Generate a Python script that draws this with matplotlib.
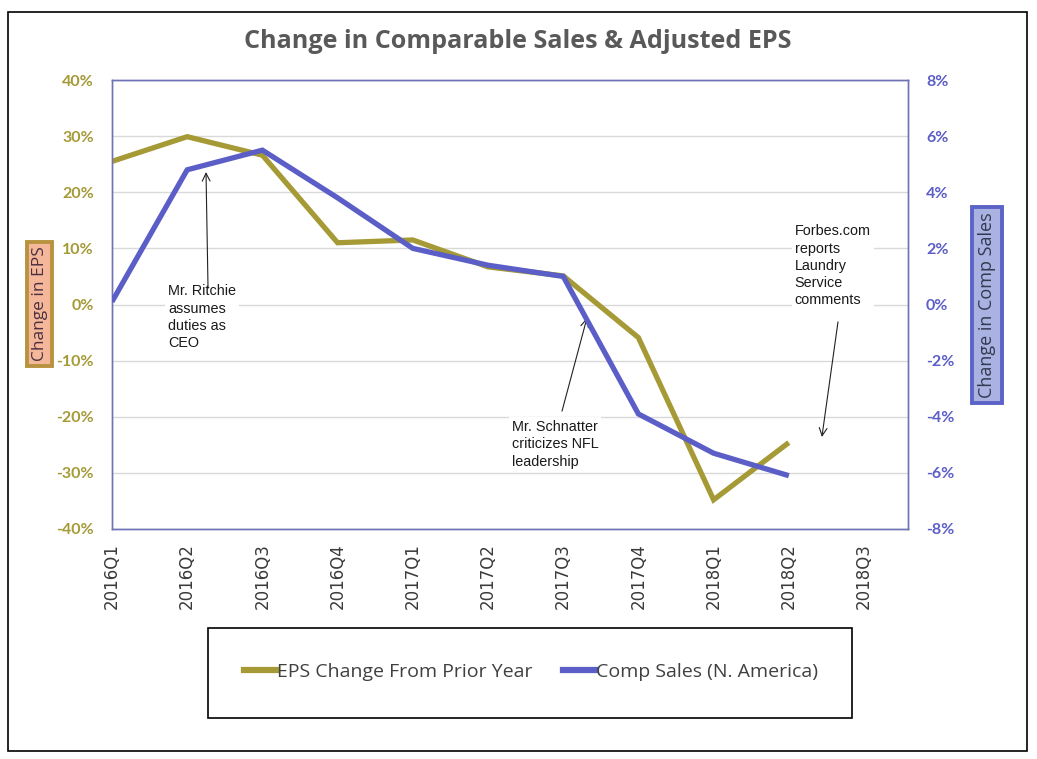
import matplotlib
matplotlib.use('Agg')
import matplotlib.pyplot as plt
from matplotlib.patches import Rectangle
from matplotlib.lines import Line2D
from matplotlib.ticker import FuncFormatter, MultipleLocator

# ---- data ----
quarters = ['2016Q1', '2016Q2', '2016Q3', '2016Q4', '2017Q1', '2017Q2',
            '2017Q3', '2017Q4', '2018Q1', '2018Q2', '2018Q3']
eps_change = [25.5, 29.9, 26.6, 11.0, 11.5, 6.7, 5.1, -5.9, -34.8, -24.6]
comp_sales = [0.1, 4.8, 5.5, 3.8, 2.0, 1.4, 1.0, -3.9, -5.3, -6.1]

title = 'Change in Comparable Sales & Adjusted EPS'
eps_label = 'EPS Change From Prior Year'
comp_label = 'Comp Sales (N. America)'

EPS_COLOR = '#a59a35'
COMP_COLOR = '#5b5ec6'
SPINE_COLOR = '#6f73b6'
GRID_COLOR = '#d9d9d9'

W, H = 1037, 759
fig = plt.figure(figsize=(W / 100, H / 100), dpi=100)
fig.patch.set_facecolor('white')

def fx(px):
    return px / W

def fy(py):
    return 1 - py / H

ax = fig.add_axes([fx(112), fy(529), fx(908) - fx(112), fy(80) - fy(529)])
ax2 = ax.twinx()

x = list(range(len(eps_change)))
ax.plot(x, eps_change, color=EPS_COLOR, lw=3.8, solid_joinstyle='miter',
        solid_capstyle='butt', zorder=3)
ax2.plot(x, comp_sales, color=COMP_COLOR, lw=3.8, solid_joinstyle='miter',
         solid_capstyle='butt', zorder=3)

ax.set_xlim(0, 10.585)
ax.set_ylim(-40, 40)
ax2.set_ylim(-8, 8)

ax.yaxis.set_major_locator(MultipleLocator(10))
ax2.yaxis.set_major_locator(MultipleLocator(2))
ax.yaxis.set_major_formatter(FuncFormatter(lambda v, p: f'{v:.0f}%'))
ax2.yaxis.set_major_formatter(FuncFormatter(lambda v, p: f'{v:.0f}%'))

ax.set_xticks(range(len(quarters)))
ax.set_xticklabels(quarters, rotation=90, fontsize=12, color='#3a3a3a',
                   family='DejaVu Sans')
ax.tick_params(axis='x', length=0, pad=10)
ax.tick_params(axis='y', length=0, pad=13, labelsize=11.5, labelcolor=EPS_COLOR)
ax2.tick_params(axis='y', length=0, pad=13, labelsize=11.5, labelcolor=COMP_COLOR)
for lab in ax.get_yticklabels():
    lab.set_fontweight('bold')
    lab.set_family('Lato')
for lab in ax2.get_yticklabels():
    lab.set_fontweight('bold')
    lab.set_family('Lato')

ax.grid(axis='y', color=GRID_COLOR, lw=1)
ax.set_axisbelow(True)
for a in (ax, ax2):
    for s in a.spines.values():
        s.set_color(SPINE_COLOR)
        s.set_linewidth(1)

# ---- annotations ----
ann_font = dict(family='Liberation Sans', fontsize=10.4, color='#1a1a1a',
                linespacing=1.3, va='top', ha='left', zorder=5,
                bbox=dict(fc='white', ec='none', pad=2))
arrow = dict(arrowstyle='->', color='#222222', lw=0.8, shrinkA=0, shrinkB=0,
             mutation_scale=14)

ax.text(0.745, 3.6, 'Mr. Ritchie\nassumes\nduties as\nCEO', **ann_font)
ax.annotate('', xy=(1.25, 23.6), xytext=(1.277, 2.9), arrowprops=arrow, zorder=6)

ax.text(5.32, -20.6, 'Mr. Schnatter\ncriticizes NFL\nleadership', **ann_font)
ax.annotate('', xy=(6.316, -2.4), xytext=(5.984, -19.0), arrowprops=arrow, zorder=6)

ax.text(9.08, 14.3, 'Forbes.com\nreports\nLaundry\nService\ncomments', **ann_font)
ax.annotate('', xy=(9.44, -23.6), xytext=(9.654, -3.1), arrowprops=arrow, zorder=6)

# ---- title ----
fig.text(fx(518), fy(42), title, ha='center', va='center', fontsize=18.1,
         fontweight='bold', color='#595959', family='Open Sans')

# ---- axis title boxes ----
fig.text(fx(39.5), fy(304), 'Change in EPS', rotation=90, ha='center',
         va='center', fontsize=12.5, color='#4a3040', family='Open Sans',
         bbox=dict(fc='#f4b79a', ec='#b89240', lw=2.8, pad=3.5))
fig.text(fx(987), fy(305), 'Change in Comp Sales', rotation=90, ha='center',
         va='center', fontsize=13, color='#33394f', family='Open Sans',
         bbox=dict(fc='#a9b2e0', ec='#5b63c6', lw=2.8, pad=4))

# ---- legend ----
fig.patches.append(Rectangle((fx(208), fy(718)), fx(852) - fx(208),
                             fy(628) - fy(718), transform=fig.transFigure,
                             fc='white', ec='black', lw=1.2))
handles = [Line2D([], [], color=EPS_COLOR, lw=4.5),
           Line2D([], [], color=COMP_COLOR, lw=4.5)]
leg = fig.legend(handles, [eps_label, comp_label], loc='center',
                 bbox_to_anchor=(fx(531), fy(672)), ncol=2, frameon=False,
                 handlelength=1.7, handletextpad=0.0, columnspacing=1.6,
                 prop=dict(family='Open Sans', size=14))
for t in leg.get_texts():
    t.set_color('#404040')

# ---- outer border ----
fig.patches.append(Rectangle((fx(8), fy(751)), fx(1027) - fx(8),
                             fy(12) - fy(751), transform=fig.transFigure,
                             fc='none', ec='black', lw=1.2))

fig.savefig('out.png', dpi=100)
